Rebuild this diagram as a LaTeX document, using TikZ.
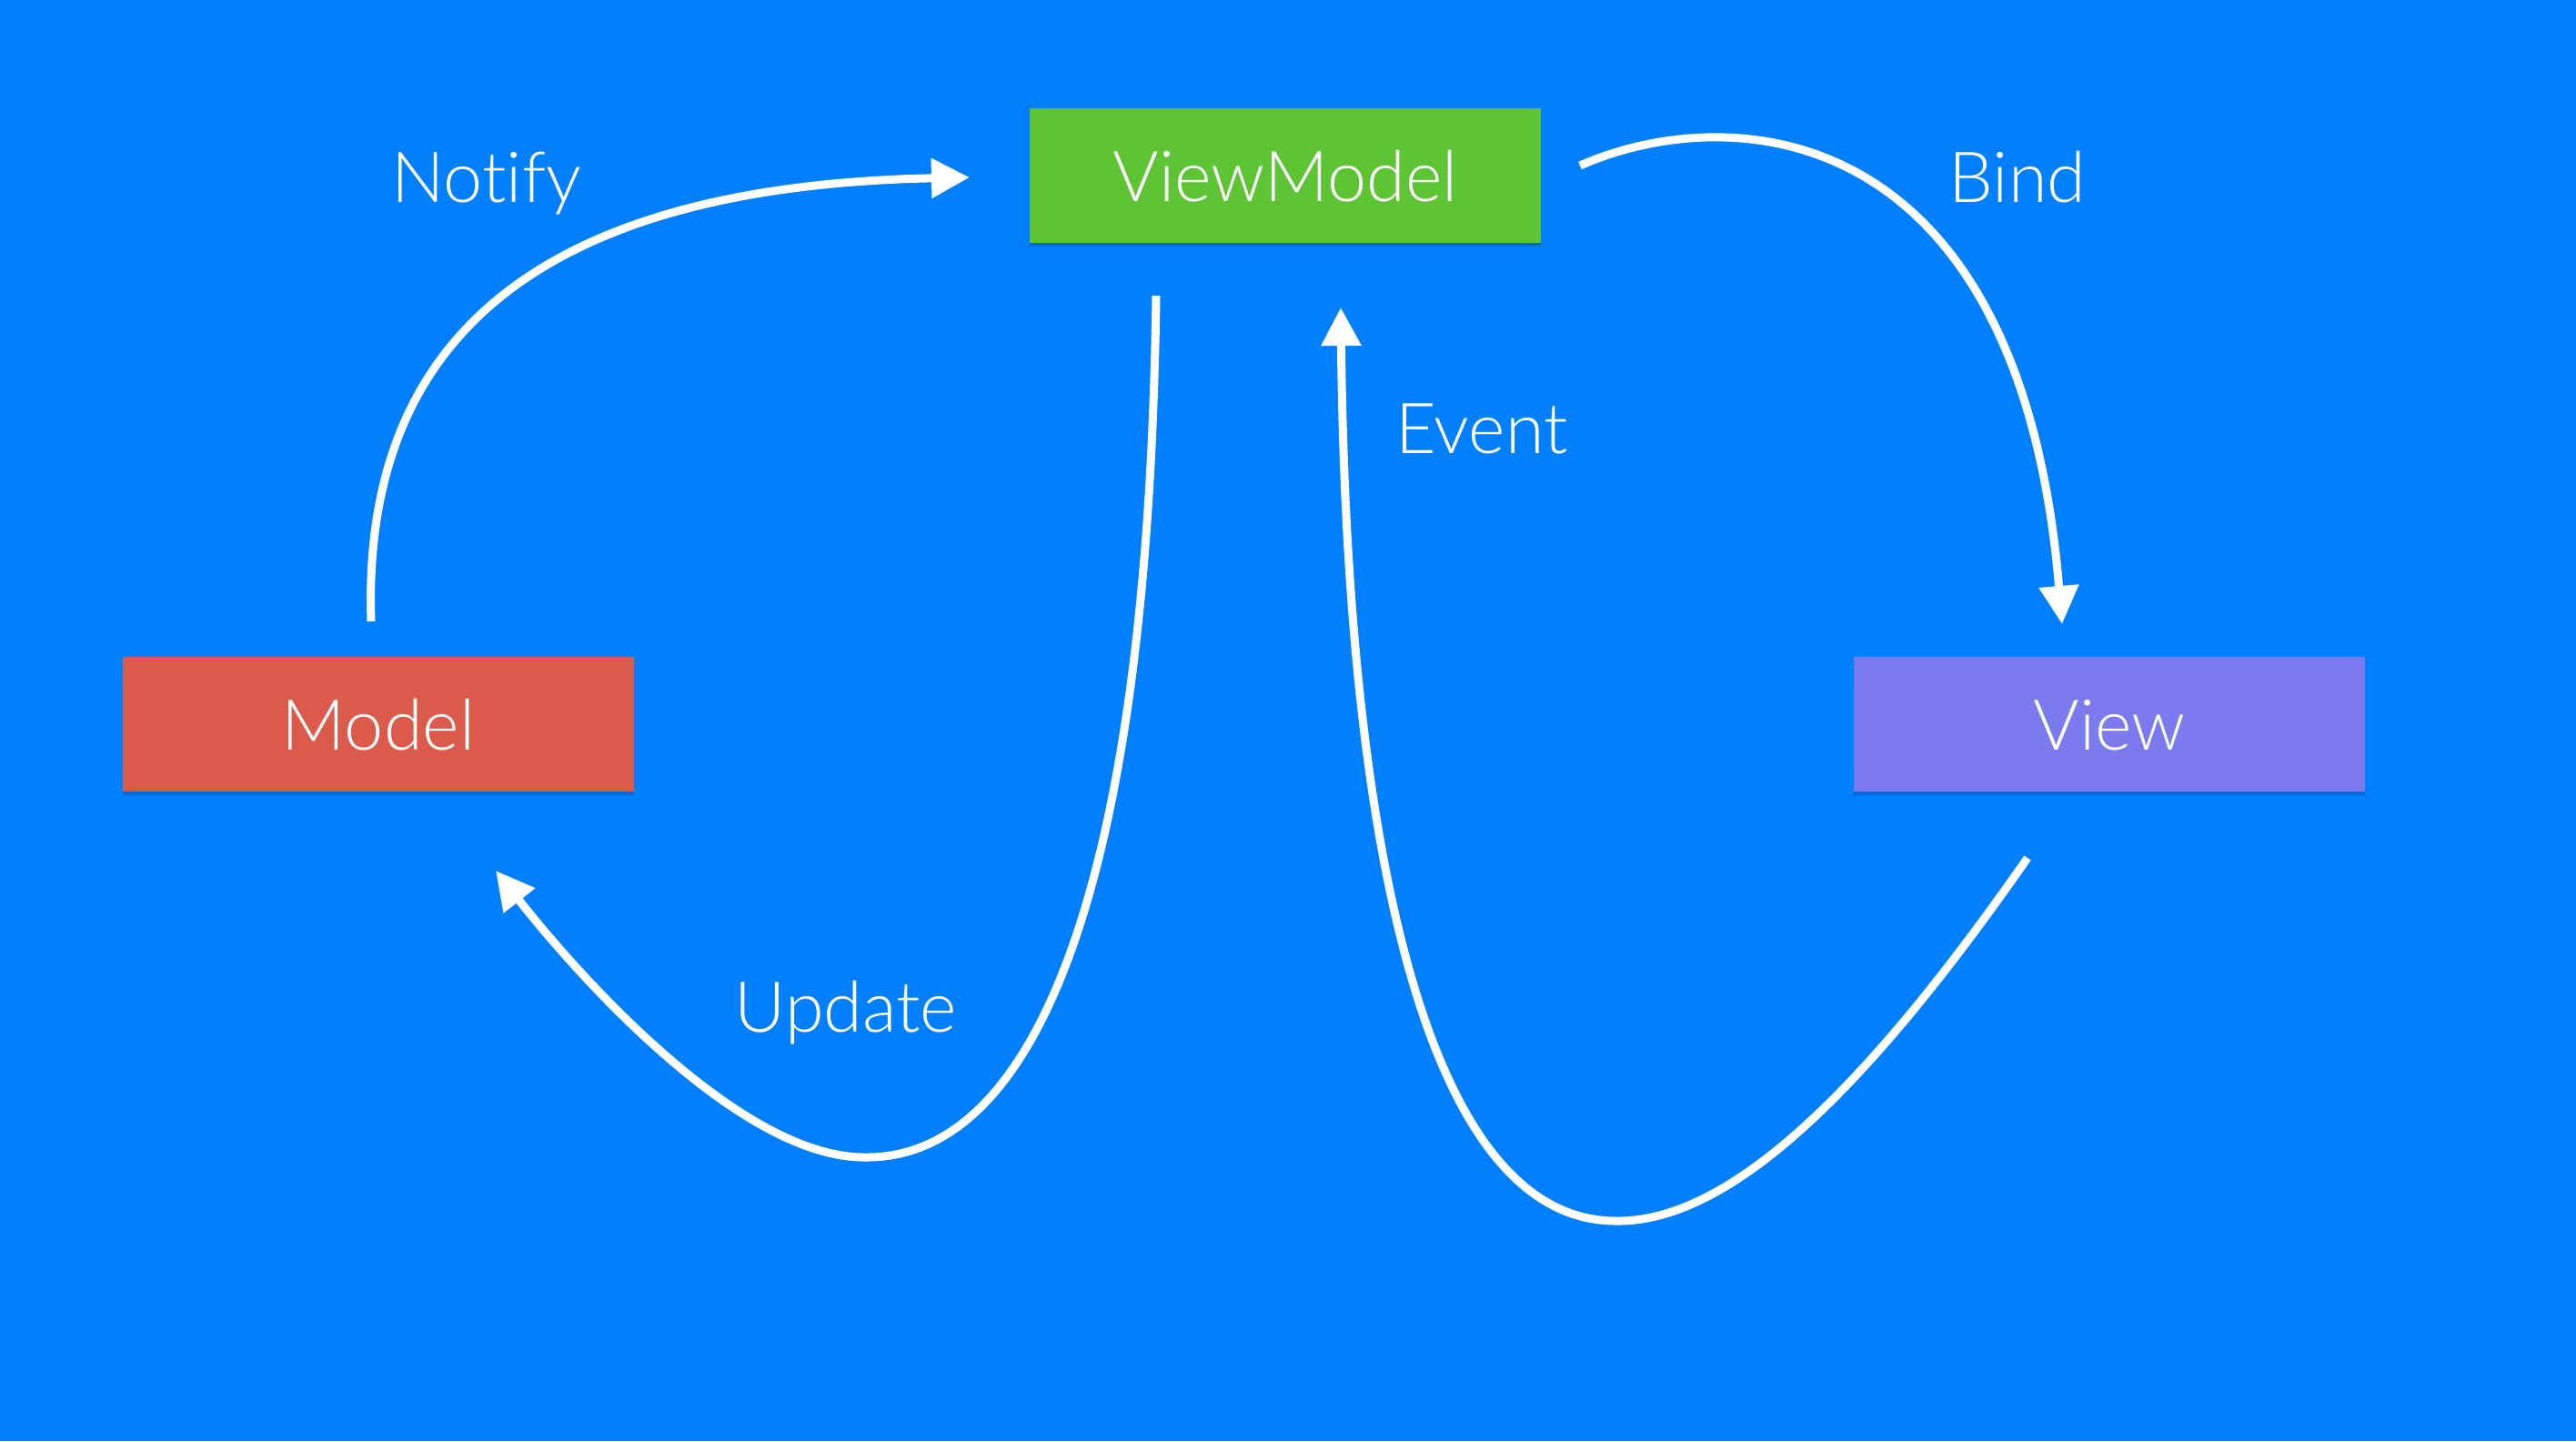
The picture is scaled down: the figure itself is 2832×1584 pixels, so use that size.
\documentclass[tikz,border=0pt]{standalone}
\usepackage{fontspec}
\setmainfont{Lato}[UprightFont=* Light, Ligatures={NoCommon,NoRare}]
\usetikzlibrary{arrows.meta,shadows}
\definecolor{bg}{HTML}{0080FF}
\definecolor{vmgreen}{HTML}{5DC433}
\definecolor{mred}{HTML}{DB5A4A}
\definecolor{vpurple}{HTML}{7B7AEE}
\definecolor{shade}{HTML}{003A80}
\begin{document}
\begin{tikzpicture}[x=0.01cm,y=-0.01cm,
  box/.style={rectangle, minimum width=5.62cm, minimum height=1.48cm, inner sep=0pt,
    text=white, font=\fontsize{22}{26}\selectfont, text height=0.56cm, text depth=0pt,
    drop shadow={shadow xshift=0pt, shadow yshift=-0.04cm, opacity=0.3, fill=shade}},
  lbl/.style={text=white, font=\fontsize{22}{26}\selectfont, anchor=base, inner sep=0pt},
  flow/.style={draw=white, line width=0.09cm, -{Triangle[length=0.42cm,width=0.42cm]}}]
\fill[bg] (0,0) rectangle (2832,1584);
\useasboundingbox (0,0) rectangle (2832,1584);

\node[box, fill=vmgreen] (vm) at (1413,193) {ViewModel};
\node[box, fill=mred] (model) at (416,796) {Model};
\node[box, fill=vpurple] (view) at (2319,796) {View};

\node[lbl] (notify) at (535,222) {Notify};
\node[lbl] (bind) at (2218,222) {Bind};
\node[lbl] (event) at (1629,498) {Event};
\node[lbl] (update) at (930,1134) {Update};

\coordinate (nS) at (408,683);
\coordinate (nE) at (1066,195);
\coordinate (bS) at (1737,182);
\coordinate (bE) at (2267,686);
\coordinate (uS) at (1271,325);
\coordinate (uM) at (950,1272);
\coordinate (uE) at (545,957);
\coordinate (eS) at (2229,943);
\coordinate (eM) at (1775,1342);
\coordinate (eE) at (1474,338);

\draw[flow] (nS) .. controls (398,390) and (570,205) .. (nE);
\draw[flow] (bS) .. controls (1900,110) and (2220,125) .. (bE);
\draw[flow] (uS) .. controls (1262,1000) and (1130,1275) .. (uM)
                 .. controls (820,1272) and (650,1090) .. (uE);
\draw[flow] (eS) .. controls (2050,1200) and (1900,1345) .. (eM)
                 .. controls (1560,1340) and (1480,900) .. (eE);
\end{tikzpicture}
\end{document}
